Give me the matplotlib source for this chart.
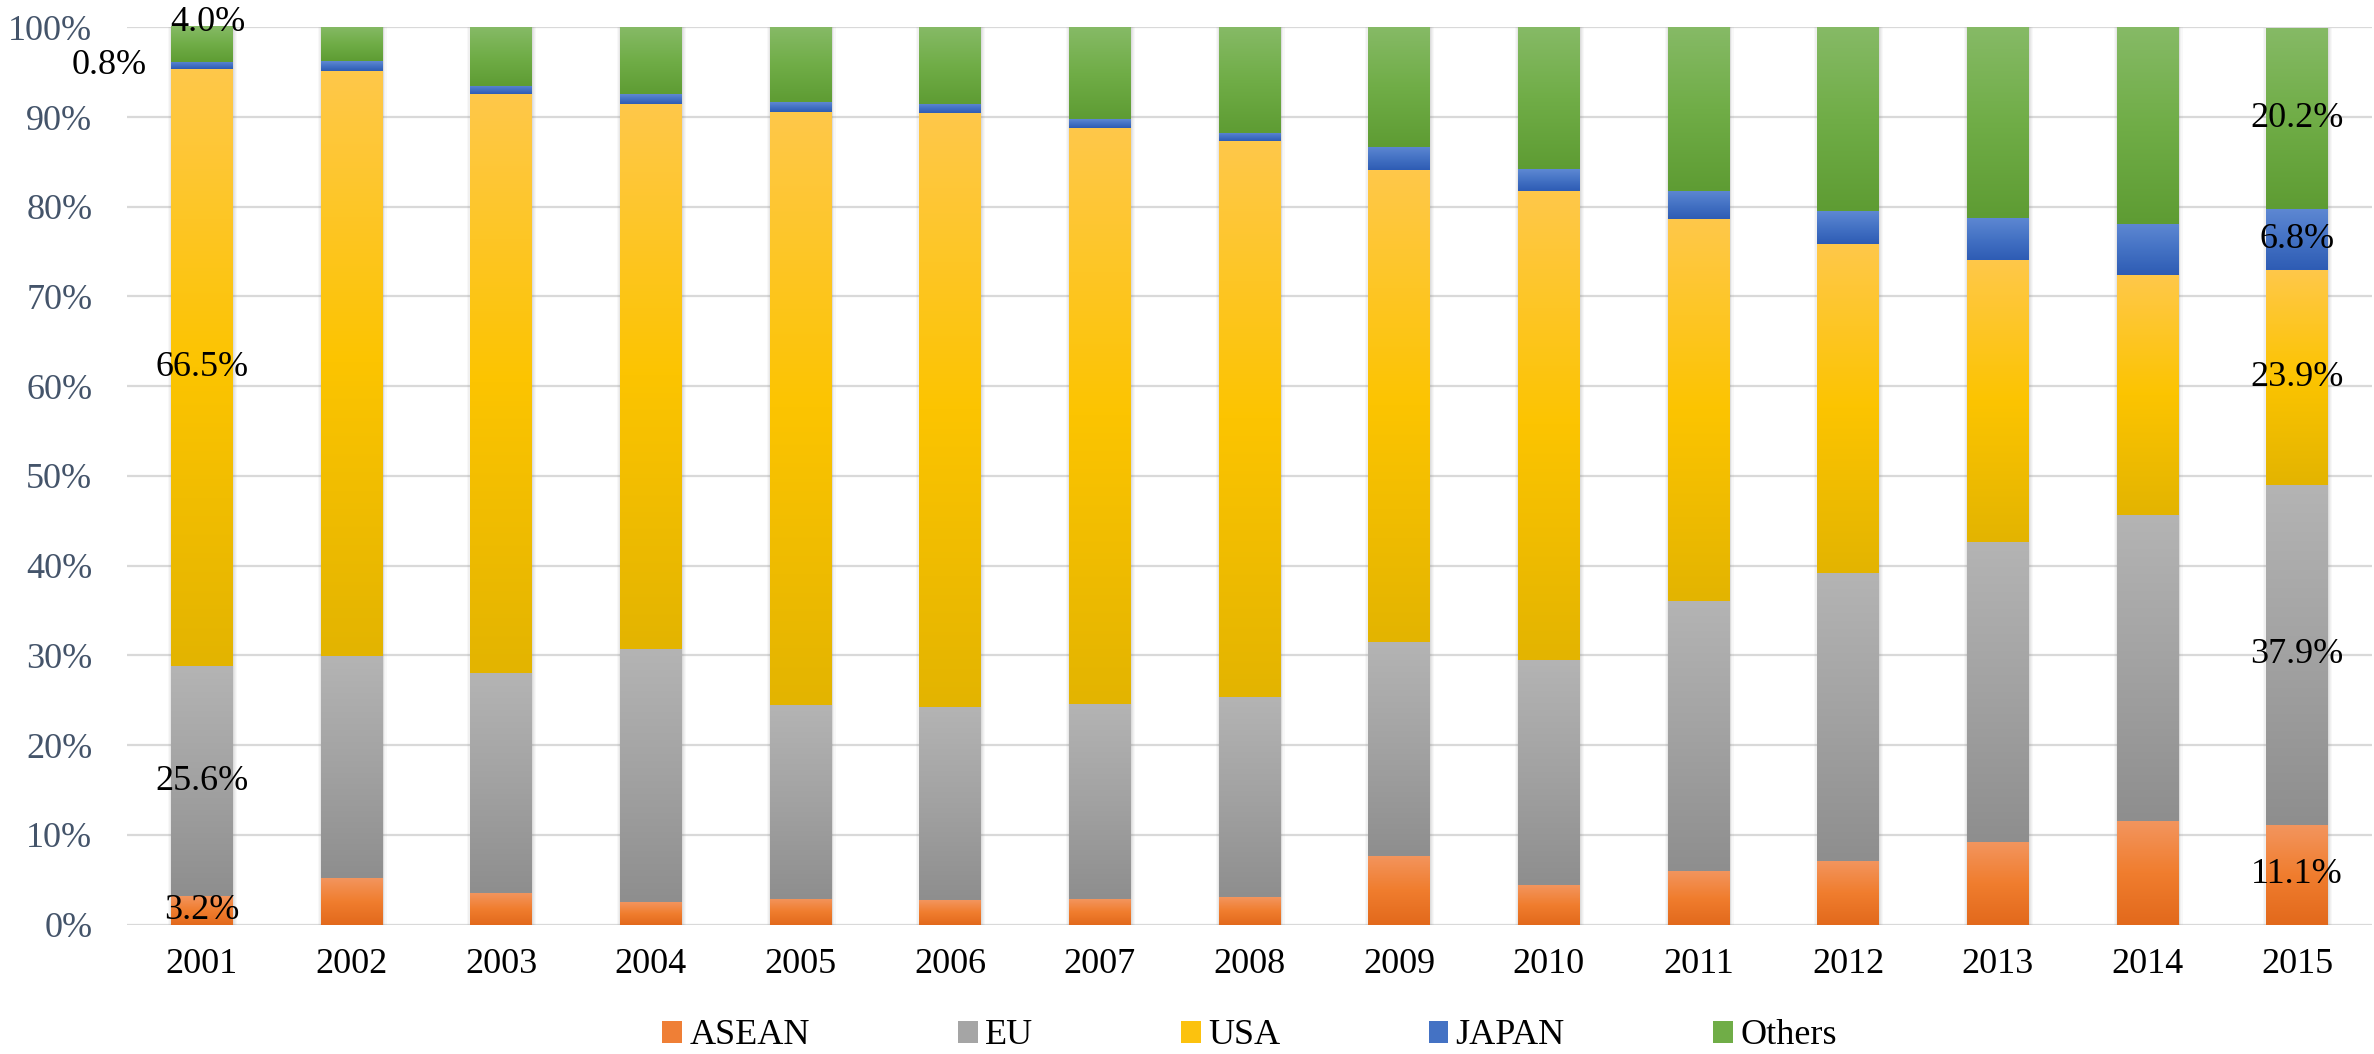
import numpy as np
import matplotlib
matplotlib.use("Agg")
import matplotlib.pyplot as plt
from matplotlib.colors import LinearSegmentedColormap
from matplotlib.patches import Patch

# ---------------- data ----------------
years = ["2001", "2002", "2003", "2004", "2005", "2006", "2007", "2008",
         "2009", "2010", "2011", "2012", "2013", "2014", "2015"]
series_names = ["ASEAN", "EU", "USA", "JAPAN", "Others"]
asean  = [3.2, 5.2, 3.5, 2.5, 2.9, 2.7, 2.8, 3.1, 7.7, 4.4, 6.0, 7.1, 9.2, 11.5, 11.1]
eu     = [25.6, 24.7, 24.5, 28.2, 21.6, 21.6, 21.8, 22.3, 23.8, 25.1, 30.1, 32.1, 33.4, 34.2, 37.9]
usa    = [66.5, 65.2, 64.6, 60.8, 66.1, 66.1, 64.2, 61.9, 52.6, 52.3, 42.5, 36.7, 31.5, 26.7, 23.9]
japan  = [0.8, 1.1, 0.9, 1.1, 1.1, 1.1, 1.0, 0.9, 2.6, 2.4, 3.2, 3.6, 4.7, 5.7, 6.8]
others = [4.0, 3.8, 6.5, 7.4, 8.3, 8.5, 10.2, 11.8, 13.3, 15.8, 18.2, 20.5, 21.2, 21.9, 20.2]
yticks = [0, 10, 20, 30, 40, 50, 60, 70, 80, 90, 100]
ytick_labels = [f"{v}%" for v in yticks]

# labelled points: (series index, year index)
labels_centered = [(0, 0), (1, 0), (2, 0), (0, 14), (1, 14), (2, 14), (3, 14), (4, 14)]

# ---------------- style ----------------
grad = {
    "ASEAN":  ["#F3955E", "#F07D2E", "#E2691C"],
    "EU":     ["#B4B4B4", "#A2A2A2", "#8E8E8E"],
    "USA":    ["#FFC84A", "#FCC400", "#E3B400"],
    "JAPAN":  ["#5E88D3", "#4472C4", "#2E5CB4"],
    "Others": ["#86BA66", "#70AD47", "#5E9C33"],
}
legend_cols = {"ASEAN": "#EF7F36", "EU": "#A5A5A5", "USA": "#FCC20E",
               "JAPAN": "#4472C4", "Others": "#70AD47"}

plt.rcParams["font.family"] = ["Liberation Serif", "DejaVu Serif"]
FS = 26

W, H, DPI = 2374, 1054, 100
fig = plt.figure(figsize=(W / DPI, H / DPI), dpi=DPI)
ax = fig.add_axes([127 / W, 129.4 / H, (2372 - 127) / W, (924.6 - 27.3) / H])

x = np.arange(len(years))
bw = 0.41
data = [asean, eu, usa, japan, others]
totals = np.sum(np.array(data), axis=0)

# soft shadow behind stacks
for k, (extra, a) in enumerate([(0.05, 0.05), (0.035, 0.06), (0.02, 0.08), (0.01, 0.10)]):
    ax.bar(x + 0.004, totals, width=bw + extra, bottom=0, color="#7F7F7F",
           alpha=a, linewidth=0, zorder=2)

bottom = np.zeros(len(years))
containers = []
for name, vals in zip(series_names, data):
    vals = np.array(vals, dtype=float)
    bars = ax.bar(x, vals, width=bw, bottom=bottom, color=legend_cols[name],
                  linewidth=0, zorder=3)
    cmap = LinearSegmentedColormap.from_list(name, grad[name][::-1])
    gimg = np.linspace(0, 1, 256).reshape(-1, 1)
    for p in bars:
        x0, y0, w, h = p.get_x(), p.get_y(), p.get_width(), p.get_height()
        im = ax.imshow(gimg, cmap=cmap, extent=[x0, x0 + w, y0, y0 + h],
                       origin="lower", aspect="auto", zorder=4, interpolation="bilinear")
        im.set_clip_path(p)
    containers.append(bars)
    bottom = bottom + vals

ax.set_xlim(-0.5, len(years) - 0.5)
ax.set_ylim(0, 100)

# grid
ax.set_yticks(yticks)
ax.set_yticklabels(ytick_labels)
ax.yaxis.grid(True, color="#D9D9D9", linewidth=1.6, zorder=0)
ax.set_axisbelow(True)
for s in ax.spines.values():
    s.set_visible(False)
ax.axhline(0, color="#D9D9D9", linewidth=2.0, zorder=1)

ax.set_xticks(x)
ax.set_xticklabels(years)
ax.tick_params(axis="x", length=0, pad=17, labelsize=FS, labelcolor="black")
ax.tick_params(axis="y", length=0, pad=25, labelsize=FS, labelcolor="#44546A")

# data labels
cum = np.cumsum(np.array(data), axis=0)
for si, yi in labels_centered:
    v = data[si][yi]
    top = cum[si][yi]
    ax.text(x[yi], top - v / 2, f"{v:.1f}%", ha="center", va="center",
            fontsize=FS, color="black", zorder=6)

# 2001 small segments with offset labels
v_o = others[0]
ax.annotate(f"{v_o:.1f}%", xy=(x[0], cum[4][0]), xytext=(4, 3), textcoords="offset points",
            ha="center", va="center", fontsize=FS, color="black", zorder=6,
            annotation_clip=False)
v_j = japan[0]
ax.annotate(f"{v_j:.1f}%", xy=(x[0], cum[3][0] - v_j / 2), xytext=(-67, 0),
            textcoords="offset points", ha="center", va="center", fontsize=FS,
            color="black", zorder=6, annotation_clip=False)

# legend
handles = [Patch(facecolor=legend_cols[n], edgecolor="none", label=n) for n in series_names]
fig.legend(handles=handles, loc="center", bbox_to_anchor=((127 + 2372) / 2 / W, 18 / H),
           ncol=5, frameon=False, fontsize=FS, handlelength=0.55, handleheight=0.55,
           handletextpad=0.2, columnspacing=4.1, borderpad=0, borderaxespad=0)

fig.savefig("out.png", dpi=DPI, facecolor="white")
